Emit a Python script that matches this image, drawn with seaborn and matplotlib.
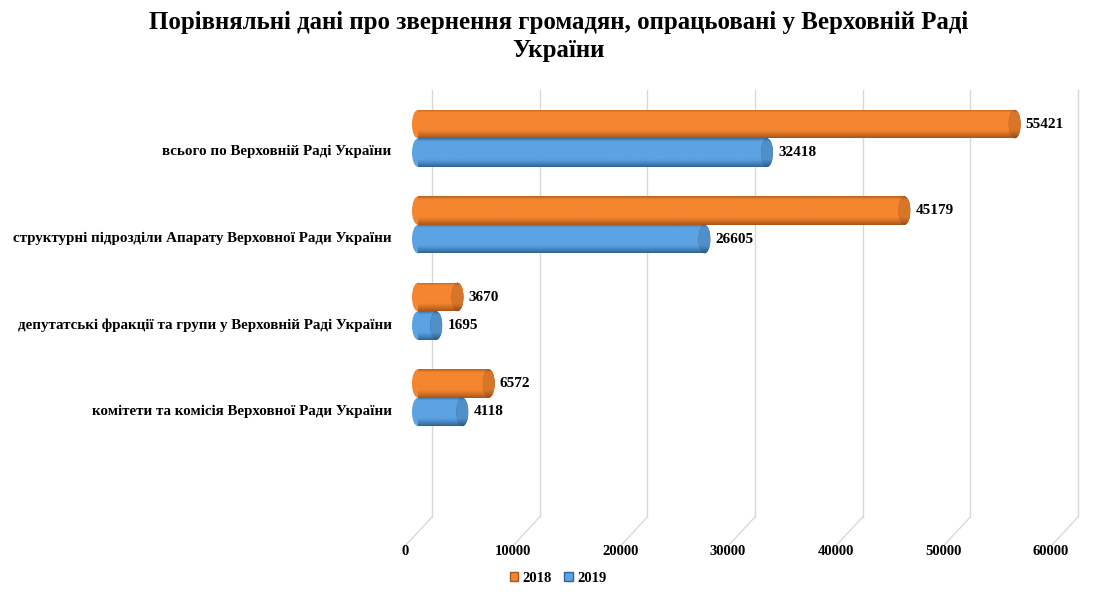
import numpy as np
import pandas as pd
import matplotlib
matplotlib.use("Agg")
import matplotlib.pyplot as plt
import matplotlib.transforms as mtransforms
from matplotlib.patches import Ellipse, Patch
import seaborn as sns

# ---- data ----
categories = [
    "всього по Верховній Раді України",
    "структурні підрозділи Апарату Верховної Ради України",
    "депутатські фракції та групи у Верховній Раді України",
    "комітети та комісія Верховної Ради України",
]
years = ["2018", "2019"]
values_2018 = [55421, 45179, 3670, 6572]
values_2019 = [32418, 26605, 1695, 4118]
x_ticks = [0, 10000, 20000, 30000, 40000, 50000, 60000]
title = "Порівняльні дані про звернення громадян, опрацьовані у Верховній Раді\nУкраїни"

colors = {"2018": "#F5862F", "2019": "#5CA3E3"}
dark = {"2018": "#A9561A", "2019": "#2F6496"}

sns.set_theme(style="white")
plt.rcParams["font.family"] = ["Liberation Serif", "DejaVu Serif"]
plt.rcParams["font.weight"] = "bold"
plt.rcParams["text.color"] = "black"
plt.rcParams["xtick.color"] = "black"
plt.rcParams["ytick.color"] = "black"

W, H = 1117, 600
fig = plt.figure(figsize=(W / 100, H / 100), dpi=100)
ax_l, ax_r, ax_t, ax_b = 418, 1064, 90, 517
ax = fig.add_axes([ax_l / W, 1 - ax_b / H, (ax_r - ax_l) / W, (ax_b - ax_t) / H])

df = pd.DataFrame({
    "cat": categories * 2,
    "year": [years[0]] * len(categories) + [years[1]] * len(categories),
    "value": values_2018 + values_2019,
})
sns.barplot(data=df, y="cat", x="value", hue="year", hue_order=years, orient="h",
            palette=colors, width=0.66, saturation=1, ax=ax, legend=False, zorder=3)

ax.set_xlim(x_ticks[0], x_ticks[-1])
ax.set_ylim(len(categories) + 0.38, -0.56)
for s in ax.spines.values():
    s.set_visible(False)
ax.set_xlabel("")
ax.set_ylabel("")
ax.grid(False)

k = (x_ticks[-1] - x_ticks[0]) / (ax_r - ax_l)  # data units per pixel
ah = ax_b - ax_t

# back-wall gridlines and floor diagonals
xt = ax.get_xaxis_transform()
for xv in x_ticks:
    ax.plot([xv + 14 * k, xv + 14 * k], [0, 1], transform=xt, color="#D9D9D9", lw=1,
            zorder=0, clip_on=False)
    ax.plot([xv + 14 * k, xv - 13 * k], [0, -29 / ah], transform=xt, color="#D9D9D9",
            lw=1, zorder=0, clip_on=False)


def shade(base, dk, n=64, factor=1.0):
    b = np.array(matplotlib.colors.to_rgb(base))
    d = np.array(matplotlib.colors.to_rgb(dk))
    t = np.linspace(0, 1, n)
    w = np.clip(np.where(t < 0.5, (0.12 - t) / 0.12, (t - 0.72) / 0.28), 0, 1) ** 1.2
    w = np.where(t < 0.5, w * 0.8, w)
    img = b[None, :] * (1 - w[:, None]) + d[None, :] * w[:, None]
    img = img * factor
    return np.clip(img[:, None, :], 0, 1)


for year, cont in zip(years, ax.containers):
    for bar in cont:
        x0, y0 = bar.get_x(), bar.get_y()
        w, h = bar.get_width(), bar.get_height()
        img = shade(colors[year], dark[year])
        im = ax.imshow(img, extent=(x0, x0 + w, y0 + h, y0), aspect="auto", zorder=3.5,
                       interpolation="bilinear")
        im.set_clip_path(bar)
        # left rounded end
        el = Ellipse((x0, y0 + h / 2), 12 * k, h, facecolor=colors[year], edgecolor="none",
                     zorder=3.2, clip_on=False)
        ax.add_patch(el)
        im2 = ax.imshow(img, extent=(x0 - 6 * k, x0 + 6 * k, y0 + h, y0), aspect="auto",
                        zorder=3.3, interpolation="bilinear")
        im2.set_clip_path(el)
        # right end cap
        er = Ellipse((x0 + w, y0 + h / 2), 12 * k, h, facecolor=dark[year], edgecolor="none",
                     zorder=4)
        ax.add_patch(er)
        im3 = ax.imshow(shade(colors[year], dark[year], factor=0.88),
                        extent=(x0 + w - 6 * k, x0 + w + 6 * k, y0 + h, y0), aspect="auto",
                        zorder=4.1, interpolation="bilinear")
        im3.set_clip_path(er)
        bar.set_edgecolor("none")
    ax.bar_label(cont, labels=[str(int(v.get_width())) for v in cont], padding=8,
                 fontsize=11, fontweight="bold", color="black", zorder=6)

ax.set_xlim(x_ticks[0], x_ticks[-1])
ax.set_ylim(len(categories) + 0.38, -0.56)

ax.set_xticks(x_ticks)
ax.set_xticklabels([str(t) for t in x_ticks], fontsize=10.5, fontweight="bold")
ax.tick_params(axis="x", length=0, pad=20)
for lbl in ax.get_xticklabels():
    lbl.set_transform(lbl.get_transform() +
                      mtransforms.ScaledTranslation(-13 / 100, 0, fig.dpi_scale_trans))

ax.set_yticks(range(len(categories)))
ax.set_yticklabels(categories, fontsize=10.8, fontweight="bold")
ax.tick_params(axis="y", length=0, pad=19)
for lbl in ax.get_yticklabels():
    lbl.set_transform(lbl.get_transform() +
                      mtransforms.ScaledTranslation(0, -12 / 100, fig.dpi_scale_trans))

fig.text(0.5, 1 - 11 / H, title, ha="center", va="top", fontsize=17.9, fontweight="bold",
         linespacing=1.3)

handles = [Patch(facecolor=colors[y], edgecolor=dark[y], label=y) for y in years]
fig.legend(handles=handles, loc="center", bbox_to_anchor=(558 / W, 1 - 578 / H), ncol=2,
           frameon=False, handlelength=0.6, handleheight=0.6,
           handletextpad=0.3, columnspacing=0.8, prop={"weight": "bold", "size": 10.5})

fig.savefig("out.png", dpi=100)
